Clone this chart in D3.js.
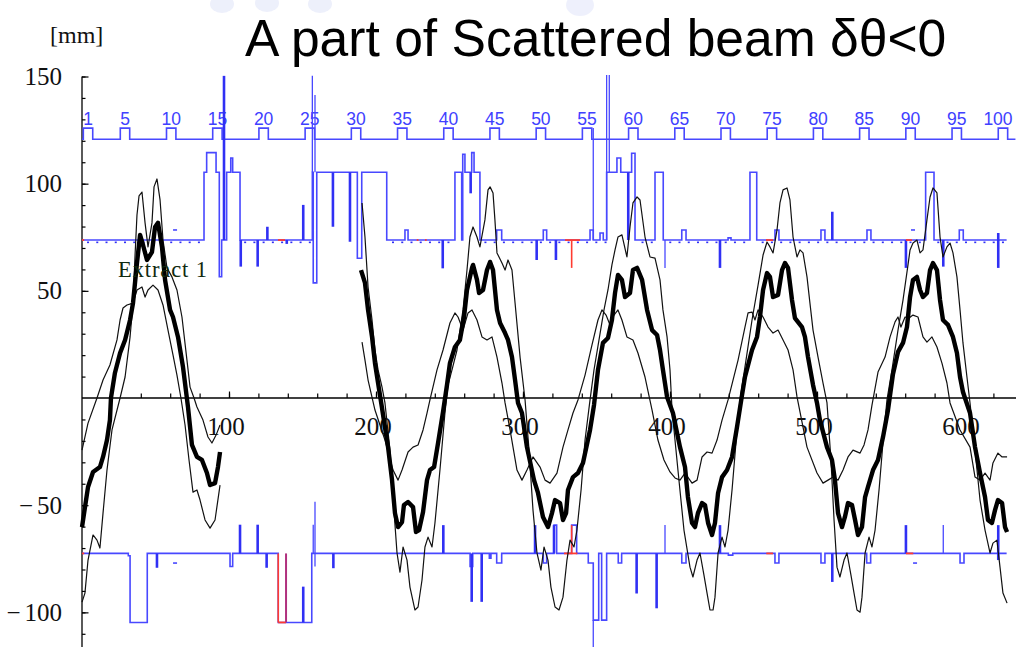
<!DOCTYPE html>
<html><head><meta charset="utf-8">
<script src="https://cdn.jsdelivr.net/npm/d3@7"></script>
<style>body{margin:0;background:#fff}</style>
</head><body>
<svg id="c" width="1016" height="647"></svg>
<script>
// ---------- data (s in the horizontal unit, displacement in mm) ----------
const titleText = "A part of Scattered beam \u03b4\u03b8<0";
const yMajorTicks = [-100, -50, 50, 100, 150];
const xTickLabels = [100, 200, 300, 400, 500, 600];
const elementLabels = [1,5,10,15,20,25,30,35,40,45,50,55,60,65,70,75,80,85,90,95,100];
const elementRange = [1, 100];
const elementSpan = [4.1, 626.5];

// beam centre (thick) and the two outer rays, first and second pieces
const centre1 = [[0,-60.2],[4.1,-41.5],[7.5,-34.5],[12.2,-32.2],[14.3,-27.5],[17,-19.6],[19,-10.3],[19.7,0],[22.4,11.7],[25.9,21.0],[29.3,27.1],[32.7,36.4],[34.7,44.3],[37.4,63.0],[39.5,76.1],[41.5,71.4],[44.2,64.4],[47.6,68.1],[49.7,79.8],[51.7,81.7],[54.4,70.5],[56.5,55.1],[59.9,41.1],[61.9,37.8],[65.3,28.5],[68.7,14.5],[72.1,-4.2],[74.8,-21.9],[78.2,-27.5],[81.6,-28.9],[85,-35.0],[87.1,-40.6],[90.5,-39.7],[92.5,-32.2],[93.9,-25.2]];
const rayA1 = [[0,-95.2],[2,-91.0],[4.1,-75.6],[7.5,-63.9],[10.2,-66.3],[12.2,-70.0],[14.3,-53.7],[17,-33.6],[20.4,-14.9],[25.9,0],[29.3,9.8],[32.7,28.5],[34.7,44.3],[36.1,66.7],[37.4,85.4],[38.8,94.3],[40.8,96.1],[42.9,81.7],[44.9,70.5],[47.6,81.7],[49,98.5],[51,102.2],[53.1,92.4],[55.1,73.7],[57.8,60.7],[61.2,56.5],[64.6,50.4],[68,37.8],[71.4,17.7],[73.5,5.1],[76.2,0],[78.2,-4.2],[82.3,-10.3],[85.7,-18.2],[88.4,-21.0],[91.2,-17.3],[93.9,-12.6]];
const rayB1 = [[0,-24.3],[4.1,-11.7],[10.2,0],[14.3,8.4],[19,15.4],[23.8,27.1],[25.9,36.4],[27.9,42.0],[30.6,43.4],[34.7,44.3],[37.4,50.4],[40.8,51.8],[42.9,47.1],[44.9,50.4],[48.3,52.7],[51.7,50.4],[55.1,43.4],[58.5,31.7],[61.9,20.1],[64.6,10.7],[67.3,0],[70.1,-12.6],[72.8,-28.9],[75.5,-43.9],[78.2,-42.9],[80.3,-47.6],[83.7,-56.9],[87.1,-60.7],[90.5,-56.9],[93.9,-40.6]];

const centre2 = [[189.8,59.7],[192.5,53.7],[194.6,41.1],[197.3,28.5],[199.3,16.3],[201.4,7.0],[204.1,-4.7],[208.2,-22.9],[210.9,-38.3],[212.9,-53.7],[215.0,-60.2],[217.7,-57.9],[219.0,-49.9],[221.8,-48.5],[225.2,-50.9],[227.2,-62.5],[229.3,-61.6],[232.0,-53.2],[234.7,-38.3],[236.7,-33.6],[239.5,-32.2],[242.2,-21.0],[245.6,-6.5],[248.3,6.1],[250.3,16.3],[253.7,23.8],[257.1,27.1],[259.9,37.8],[261.9,50.4],[265.3,60.7],[266.0,62.1],[268.7,55.1],[270.1,49.0],[272.8,50.4],[275.5,59.7],[277.6,63.5],[279.6,59.7],[282.3,41.1],[284.4,35.0],[287.8,30.3],[289.8,27.1],[292.5,19.1],[294.6,8.4],[296.6,-2.3],[299.3,-7.0],[302.7,-22.9],[307.5,-38.3],[310.2,-44.3],[313.6,-55.5],[317.0,-60.2],[319.7,-53.7],[321.8,-47.6],[325.2,-49.0],[327.2,-56.9],[329.3,-53.7],[330.6,-42.9],[334.0,-36.9],[337.4,-35.0],[340.8,-30.3],[345.6,-14.9],[348.3,-3.3],[351.0,13.1],[354.4,25.7],[357.8,28.0],[360.5,36.4],[362.6,49.0],[364.6,57.4],[367.3,55.1],[369.4,47.1],[372.8,49.0],[374.8,59.7],[377.6,60.7],[381.0,55.1],[384.4,41.1],[387.8,31.7],[391.2,29.4],[393.2,22.4],[395.2,13.1],[398.0,0.5],[402.0,-7.0],[406.8,-22.9],[410.2,-32.2],[412.2,-46.2],[415.0,-58.3],[417.0,-60.2],[419.0,-53.7],[421.8,-49.0],[423.8,-49.9],[425.9,-58.3],[428.6,-63.9],[430.6,-58.3],[432.7,-44.3],[435.4,-36.9],[438.8,-33.6],[442.2,-27.5],[445.6,-13.5],[449.0,1.4],[451.0,9.8],[455.8,22.4],[459.2,28.5],[461.2,37.8],[463.3,50.4],[466.0,58.3],[468.0,56.5],[470.1,47.1],[473.5,48.1],[476.2,59.7],[478.2,63.0],[480.3,60.7],[483.0,45.7],[485.0,37.3],[489.8,33.1],[491.8,28.5],[493.9,19.1],[497.3,6.1],[500.0,-2.3],[502.0,-10.3],[506.8,-22.9],[510.2,-28.9],[512.2,-38.3],[514.3,-53.7],[517.0,-60.2],[519.0,-55.5],[521.1,-49.0],[523.8,-49.9],[525.9,-56.9],[527.9,-63.9],[530.6,-60.2],[532.7,-46.2],[534.7,-41.5],[538.1,-33.6],[541.5,-28.9],[544.9,-18.2],[548.3,-5.6],[551.7,11.2],[555.1,21.5],[558.5,25.7],[561.2,33.1],[563.3,47.1],[565.3,55.1],[568.0,56.5],[570.1,50.4],[572.1,47.1],[574.8,49.0],[576.9,59.7],[578.9,63.0],[581.6,59.7],[583.7,45.7],[585.7,36.4],[589.1,34.1],[592.5,28.5],[595.2,21.0],[597.3,9.8],[599.3,2.8],[604.1,-7.0],[607.5,-22.9],[610.9,-35.0],[614.3,-46.2],[616.3,-56.9],[619.0,-58.3],[621.1,-52.3],[623.1,-47.6],[625.9,-49.0],[627.9,-60.2],[629.3,-62.5]];
const rayA2 = [[190.5,91.0],[192.5,75.1],[194.6,51.8],[197.3,36.4],[199.3,22.4],[201.4,13.1],[204.1,5.1],[206.1,-2.3],[209.5,-24.3],[212.2,-52.3],[214.3,-72.3],[216.3,-81.2],[218.4,-69.5],[221.1,-75.6],[223.1,-88.2],[226.5,-98.9],[228.6,-97.5],[231.3,-84.9],[233.3,-69.5],[235.4,-64.9],[238.1,-69.5],[240.1,-58.3],[243.5,-33.6],[246.9,-7.0],[249.0,6.1],[251.7,13.1],[255.1,22.4],[259.2,41.1],[261.9,59.7],[263.9,75.1],[266.0,79.8],[268.7,75.1],[270.7,70.5],[274.1,83.1],[276.2,97.1],[277.6,98.5],[279.6,95.7],[280.9,83.1],[282.3,67.7],[285.7,63.0],[287.8,59.7],[289.8,64.4],[292.5,59.7],[294.6,44.3],[298.0,19.1],[301.4,-0.9],[304.1,-24.3],[306.8,-52.3],[309.5,-72.3],[312.2,-80.3],[314.3,-69.5],[317.0,-75.6],[319.0,-88.2],[321.8,-97.5],[324.5,-98.9],[327.2,-92.9],[329.9,-75.6],[332.0,-66.3],[334.7,-69.5],[336.7,-61.6],[339.5,-42.9],[342.2,-19.6],[345.6,-0.9],[348.3,13.1],[351.7,27.1],[355.1,41.1],[357.8,50.4],[360.5,62.1],[362.6,69.1],[364.6,75.1],[367.3,76.1],[370.7,65.8],[372.8,79.8],[374.8,91.0],[377.6,93.8],[379.6,92.4],[383.0,75.1],[386.4,65.8],[389.8,65.3],[393.2,55.1],[395.2,41.1],[398.0,28.5],[400.0,13.1],[401.4,-5.6],[405.4,-33.6],[409.5,-61.6],[413.6,-78.9],[415.6,-83.5],[418.4,-75.6],[420.4,-72.3],[423.1,-82.6],[425.2,-91.0],[427.2,-98.9],[429.3,-98.9],[430.6,-92.9],[432.7,-72.3],[435.4,-64.9],[437.4,-69.5],[439.5,-61.6],[442.2,-42.9],[445.6,-14.9],[447.6,-0.9],[451.7,17.7],[455.8,36.4],[459.9,52.7],[463.3,66.7],[466.0,72.8],[468.0,70.5],[470.1,67.7],[472.8,78.4],[474.8,91.0],[476.9,97.1],[479.6,98.0],[481.6,92.4],[483.7,75.1],[486.4,65.8],[488.4,69.1],[490.5,67.7],[493.2,56.5],[495.2,44.3],[497.3,31.7],[500.7,19.1],[504.1,7.0],[506.8,-2.3],[509.5,-28.9],[511.6,-56.9],[513.6,-78.9],[515.6,-83.5],[518.4,-75.6],[520.4,-72.3],[523.1,-82.6],[525.2,-91.0],[527.2,-98.9],[529.3,-99.9],[530.6,-92.9],[532.7,-72.3],[535.4,-64.9],[537.4,-69.5],[539.5,-61.6],[542.2,-42.9],[545.6,-14.9],[547.6,-0.9],[551.0,13.1],[555.1,31.7],[558.5,45.7],[561.9,62.1],[563.3,69.1],[565.3,72.3],[568.0,73.7],[570.1,67.7],[572.1,69.1],[574.8,83.1],[576.9,93.8],[578.9,98.0],[581.6,95.7],[583.7,75.1],[585.7,65.8],[588.4,70.5],[590.5,72.3],[592.5,67.7],[595.2,56.5],[597.3,41.1],[599.3,25.7],[602.0,9.8],[604.1,-2.3],[607.5,-24.3],[610.9,-47.6],[614.3,-61.6],[617.7,-72.3],[619.7,-67.7],[622.4,-66.3],[624.5,-78.9],[626.5,-91.0],[629.3,-95.7]];
const rayB2 = [[190.5,26.1],[192.5,17.7],[194.6,8.4],[199.3,-5.6],[206.1,-19.6],[211.6,-33.6],[215.0,-38.3],[217.7,-33.6],[221.8,-25.2],[225.2,-22.9],[228.6,-21.9],[232.0,-14.9],[234.7,-7.0],[236.7,-0.9],[241.5,13.1],[245.6,22.4],[250.3,35.0],[253.7,39.7],[255.8,37.8],[259.2,31.7],[262.6,39.7],[265.3,41.1],[268.7,36.4],[272.1,28.5],[275.5,27.1],[278.9,28.5],[282.3,19.1],[285.7,7.0],[287.8,-2.3],[291.2,-14.9],[295.9,-33.6],[299.3,-38.3],[302.7,-33.6],[306.8,-27.5],[311.6,-32.2],[315.0,-38.3],[318.4,-39.7],[323.1,-35.0],[327.2,-22.9],[330.6,-14.9],[334.0,-7.0],[337.4,-0.9],[342.2,10.7],[346.9,24.7],[351.0,36.4],[353.7,41.1],[356.5,38.7],[359.2,34.1],[361.9,38.7],[364.6,41.1],[367.3,36.4],[370.7,28.5],[374.8,27.1],[378.2,21.0],[383.0,9.8],[387.8,-5.6],[391.8,-19.6],[395.9,-28.9],[400.0,-34.5],[403.4,-37.3],[406.8,-38.3],[410.2,-35.0],[415.0,-39.7],[418.4,-38.3],[421.8,-27.5],[425.2,-25.2],[428.6,-25.7],[432.0,-19.6],[435.4,-10.3],[439.5,-0.9],[446.3,17.7],[451.0,33.1],[453.1,39.7],[455.8,40.1],[457.8,36.4],[459.9,41.1],[463.3,37.8],[466.7,33.1],[470.1,30.3],[473.5,31.7],[476.9,27.1],[480.3,22.4],[483.7,13.1],[486.4,0.5],[493.2,-22.9],[500.0,-35.0],[504.1,-39.7],[507.5,-38.3],[510.9,-36.9],[514.3,-38.3],[517.7,-33.6],[521.1,-27.5],[524.5,-24.3],[529.3,-25.7],[532.0,-21.9],[534.7,-14.9],[537.4,-3.3],[541.5,12.1],[546.3,19.1],[549.7,28.5],[553.1,35.5],[555.1,37.8],[557.1,33.1],[559.9,37.8],[562.6,37.3],[565.3,38.7],[568.7,37.8],[572.1,28.5],[574.8,26.1],[578.2,28.5],[581.6,23.8],[585.0,16.3],[588.4,7.0],[590.5,-2.3],[597.3,-14.9],[604.1,-22.9],[607.5,-36.9],[610.9,-38.3],[614.3,-35.0],[617.7,-38.3],[619.7,-30.3],[623.1,-25.7],[625.9,-27.5],[629.3,-27.5]];

// element marker line (top)
const markerBase = 120.7, markerBump = 125.9;

// upper aperture line: [s, level from s onward]
const upperSteps = [[0,73.7],[83.0,105.3],[84.8,114.5],[91.2,105.3],[93.4,56.6],[95.0,73.7],[98.4,105.3],[101.2,112.0],[102.5,105.3],[107.5,73.7],
 [156.7,105.3],[157.3,53.7],[159.7,105.3],[187.3,65.2],[190.3,105.3],[207.3,73.7],[219.7,78.4],[221.8,73.7],
 [253.7,105.3],[258.3,73.7],[259.0,113.7],[260.5,105.3],[265.1,114.5],[266.7,105.3],[270.7,73.7],
 [282.1,78.4],[285.5,73.7],[313.8,78.4],[316.1,73.7],[345.6,78.4],[347.8,73.7],[352.4,77.0],[354.6,73.7],
 [356.9,105.3],[363.9,112.0],[366.5,105.3],[373.9,114.2],[376.2,73.7],[389.8,105.3],[395.4,73.7],
 [408.0,78.4],[410.9,73.7],[439.5,74.7],[441.5,73.7],[454.4,105.3],[459.0,73.7],[471.4,78.4],[474.1,73.7],
 [502.7,78.4],[505.4,73.7],[534.0,78.4],[536.7,73.7],[573.9,105.3],[579.6,73.7],[596.8,78.4],[599.5,73.7],[629.0,73.7]];
const upperBase = 73.7;
// vertical strokes on the upper line: [s, from, to]
const upperHeavy = [[96.6,73.7,150.3],[108.0,73.7,61.3],[119.5,73.7,61.3],[126.1,73.7,79.9],[139.3,73.7,71.9],[150.5,73.7,90.1],
 [170.7,105.3,79.9],[182.3,105.3,72.9],[245.4,73.7,60.5],[264.4,105.3,95.5],[309.3,73.7,64.4],[322.4,73.7,64.4],
 [371.6,105.3,73.7],[434.0,73.7,60.7],[510.4,73.7,86.9],[560.5,73.7,60.7],[585.9,73.7,61.3],[623.3,77.0,60.7]];
const upperLight = [[156.7,105.3,150.3],[158.5,105.3,141.4],[347.8,73.7,126.0],[356.9,73.7,150.7],[358.7,105.3,150.7],[396.6,73.7,60.7]];
const upperRedRuns = [[0,1.5],[133.3,138.1],[227.7,228.9],[233.3,234.5],[328.6,338.8],[465.3,470.1],[560.5,564.6]];
const upperRedStrokes = [[333.1,73.7,60.7]];
const upperDashes = [[63.3,78.4],[565.3,78.4]];

// lower aperture line
const lowerSteps = [[0,-72.5],[31.5,-73.6],[32.7,-104.7],[44.4,-72.5],[100.7,-78.6],[102.5,-72.5],
 [133.5,-104.7],[156.3,-72.5],[264.0,-78.6],[265.8,-72.5],[277.1,-74.7],[278.2,-72.5],[282.1,-77.0],[285.5,-72.5],
 [313.8,-77.0],[316.1,-72.5],[321.1,-59.3],[322.9,-72.5],[333.1,-59.3],[336.5,-72.5],
 [344.4,-77.0],[347.8,-103.6],[351.5,-72.5],[353.5,-103.6],[356.9,-72.5],[364.8,-77.0],[367.1,-72.5],
 [408.0,-77.0],[410.9,-72.5],[439.7,-73.3],[442.7,-72.5],[471.4,-77.0],[474.1,-72.5],[502.7,-77.0],[505.4,-72.5],
 [533.8,-77.0],[536.5,-72.5],[597.3,-77.0],[600.0,-72.5],[629.0,-72.5]];
const lowerHeavy = [[51.0,-72.5,-79.2],[107.5,-72.5,-59.1],[119.5,-72.5,-59.1],[125.6,-72.5,-79.2],[150.5,-104.7,-88.0],
 [171.0,-72.5,-79.4],[245.8,-72.5,-59.3],[265.1,-72.5,-95.1],[271.9,-72.5,-95.1],[308.2,-72.5,-59.3],[321.1,-72.5,-59.3],
 [377.3,-72.5,-91.2],[390.9,-72.5,-98.1],[434.0,-72.5,-59.3],[510.4,-72.5,-85.8],[560.5,-72.5,-59.3],[623.3,-59.3,-75.6]];
const lowerLight = [[157.3,-72.5,-59.1],[158.5,-78.6,-48.4],[347.8,-103.6,-117],[396.6,-72.5,-59.3],[585.9,-72.5,-59.3]];
const lowerRedRuns = [[0,1.5],[327.9,337.0],[465.5,470.1],[560.5,565.5]];
const lowerRedStrokes = [[133.5,-72.5,-104.7],[333.1,-72.5,-59.3]];
const lowerRedFloor = [[133.5,138.8,-104.7]];
const lowerMixedStrokes = [[138.8,-72.5,-104.7]];
const lowerDashes = [[63.3,-77.0],[566.7,-77.0]];

// ---------- drawing ----------
const W = 1016, H = 647;
const svg = d3.select('#c');
const x = d3.scaleLinear().domain([0, 635]).range([82, 1015.45]);
const y = d3.scaleLinear().domain([-117, 150]).range([648.8, 76.5]);
const elemS = d3.scaleLinear().domain(elementRange).range(elementSpan);

const BLUE = '#4848ff', BLUE_D = '#3030f4', RED = '#ff3b30';
const serif = "'Liberation Serif','Times New Roman',serif";
const sans = "'Liberation Sans',Arial,sans-serif";

// faint letterhead marks along the top edge
const marks = svg.append('g').attr('opacity', 0.45);
[[222,4,12,9],[267,3,12,9],[320,4,12,9],[580,5,14,11]].forEach(d => {
  marks.append('ellipse').attr('cx', d[0]).attr('cy', d[1]).attr('rx', d[2]).attr('ry', d[3]).attr('fill', '#d9def8');
});

// axes
const axes = svg.append('g').attr('stroke', '#000');
axes.append('line').attr('x1', x(0)).attr('x2', W).attr('y1', y(0)).attr('y2', y(0)).attr('stroke-width', 1.3);
axes.append('line').attr('x1', x(0)).attr('x2', x(0)).attr('y1', y(150)).attr('y2', H).attr('stroke-width', 1.3);

const yMinor = d3.range(-110, 151, 10).filter(v => v !== 0);
const gy1 = svg.append('g').attr('transform', `translate(${x(0)},0)`)
  .call(d3.axisRight(y).tickValues(yMinor).tickSize(3.5).tickFormat(''));
const gy2 = svg.append('g').attr('transform', `translate(${x(0)},0)`)
  .call(d3.axisRight(y).tickValues(yMajorTicks).tickSize(6.5).tickFormat(''));
const gx1 = svg.append('g').attr('transform', `translate(0,${y(0)})`)
  .call(d3.axisTop(x).tickValues(d3.range(20, 621, 20)).tickSize(4.5).tickFormat(''));
const gx2 = svg.append('g').attr('transform', `translate(0,${y(0)})`)
  .call(d3.axisTop(x).tickValues(xTickLabels).tickSize(6.5).tickFormat(''));
[gy1, gy2, gx1, gx2].forEach(g => {
  g.select('.domain').remove();
  g.selectAll('line').attr('stroke', '#000').attr('stroke-width', 1.2);
});

// y labels
yMajorTicks.forEach(v => {
  const t = svg.append('text').attr('x', 62).attr('y', y(v) + 8.5)
    .attr('text-anchor', 'end').attr('font-family', serif).attr('font-size', 25).attr('fill', '#111');
  if (v < 0) {
    t.append('tspan').text('\u2212');
    t.append('tspan').attr('dx', 4).text(String(-v));
  } else t.text(String(v));
});
// x labels
xTickLabels.forEach(v => {
  svg.append('text').attr('x', x(v) - 3).attr('y', 435).attr('text-anchor', 'middle')
    .attr('font-family', serif).attr('font-size', 25).attr('fill', '#111').text(String(v));
});
svg.append('text').attr('x', 50).attr('y', 43).attr('font-family', serif).attr('font-size', 24)
  .attr('fill', '#111').text('[mm]');
svg.append('text').attr('x', 245).attr('y', 56).attr('font-family', sans).attr('font-size', 51.6)
  .attr('fill', '#000').text(titleText);

// ---------- element marker line ----------
const stepLine = d3.line().x(d => x(d[0])).y(d => y(d[1])).curve(d3.curveStepAfter);
const markerSteps = [[0, markerBase]];
elementLabels.forEach(n => {
  const c = elemS(n);
  markerSteps.push([c - 3.2, markerBump], [c + 3.2, markerBase]);
});
markerSteps.push([635, markerBase]);
svg.append('path').attr('d', stepLine(markerSteps)).attr('fill', 'none')
  .attr('stroke', BLUE).attr('stroke-width', 1.6);
elementLabels.forEach(n => {
  const cx = Math.min(x(elemS(n)), W - 18);
  svg.append('text').attr('x', cx).attr('y', y(markerBump) - 3).attr('text-anchor', 'middle')
    .attr('font-family', sans).attr('font-size', 17.5).attr('fill', '#4040ff').text(String(n));
});

// ---------- aperture lines ----------
function strokes(list, colour, width) {
  svg.append('g').selectAll('line').data(list).join('line')
    .attr('x1', d => x(d[0])).attr('x2', d => x(d[0]))
    .attr('y1', d => y(d[1])).attr('y2', d => y(d[2]))
    .attr('stroke', colour).attr('stroke-width', width);
}
function runs(list, level, colour) {
  svg.append('g').selectAll('line').data(list).join('line')
    .attr('x1', d => x(d[0])).attr('x2', d => x(d[1]))
    .attr('y1', y(level)).attr('y2', y(level))
    .attr('stroke', colour).attr('stroke-width', 1.8);
}
function dashes(list) {
  svg.append('g').selectAll('line').data(list).join('line')
    .attr('x1', d => x(d[0]) - 2).attr('x2', d => x(d[0]) + 2)
    .attr('y1', d => y(d[1])).attr('y2', d => y(d[1]))
    .attr('stroke', BLUE).attr('stroke-width', 1.6);
}
function levelAt(steps, s) {
  let v = steps[0][1];
  for (const d of steps) { if (d[0] <= s) v = d[1]; else break; }
  return v;
}

// upper line
svg.append('path').attr('d', stepLine(upperSteps)).attr('fill', 'none')
  .attr('stroke', BLUE).attr('stroke-width', 1.6);
// element dots under the upper line
const dotSites = d3.range(elementRange[0], elementRange[1] + 1).map(n => elemS(n))
  .filter(s => Math.abs(levelAt(upperSteps, s) - upperBase) < 0.01 && Math.abs(levelAt(upperSteps, s - 1) - upperBase) < 0.01);
svg.append('g').selectAll('rect').data(dotSites).join('rect')
  .attr('x', s => x(s) - 1).attr('y', y(upperBase) + 1.5).attr('width', 2).attr('height', 1.6)
  .attr('fill', BLUE_D);
strokes(upperHeavy, BLUE_D, 2.6);
strokes(upperLight, BLUE, 1.3);
runs(upperRedRuns, upperBase, RED);
strokes(upperRedStrokes, RED, 1.6);
dashes(upperDashes);

// lower line
svg.append('path').attr('d', stepLine(lowerSteps)).attr('fill', 'none')
  .attr('stroke', BLUE).attr('stroke-width', 1.6);
strokes(lowerHeavy, BLUE_D, 2.6);
strokes(lowerLight, BLUE, 1.3);
runs(lowerRedRuns, -72.5, RED);
strokes(lowerRedStrokes, RED, 1.6);
svg.append('g').selectAll('line').data(lowerRedFloor).join('line')
  .attr('x1', d => x(d[0])).attr('x2', d => x(d[1])).attr('y1', d => y(d[2])).attr('y2', d => y(d[2]))
  .attr('stroke', RED).attr('stroke-width', 1.8);
strokes(lowerMixedStrokes, '#b0307e', 2);
dashes(lowerDashes);

// ---------- beam trajectories ----------
const path = d3.line().x(d => x(d[0])).y(d => y(d[1]));
[rayA1, rayB1, rayA2, rayB2].forEach(r => {
  svg.append('path').attr('d', path(r)).attr('fill', 'none')
    .attr('stroke', '#111').attr('stroke-width', 1.2).attr('stroke-linejoin', 'round');
});
[centre1, centre2].forEach(r => {
  svg.append('path').attr('d', path(r)).attr('fill', 'none')
    .attr('stroke', '#000').attr('stroke-width', 4.4).attr('stroke-linejoin', 'round');
});

svg.append('text').attr('x', 118).attr('y', 277).attr('font-family', serif).attr('font-size', 22.5)
  .attr('letter-spacing', 0.9).attr('fill', '#102a10').text('Extract 1');
</script>
</body></html>
